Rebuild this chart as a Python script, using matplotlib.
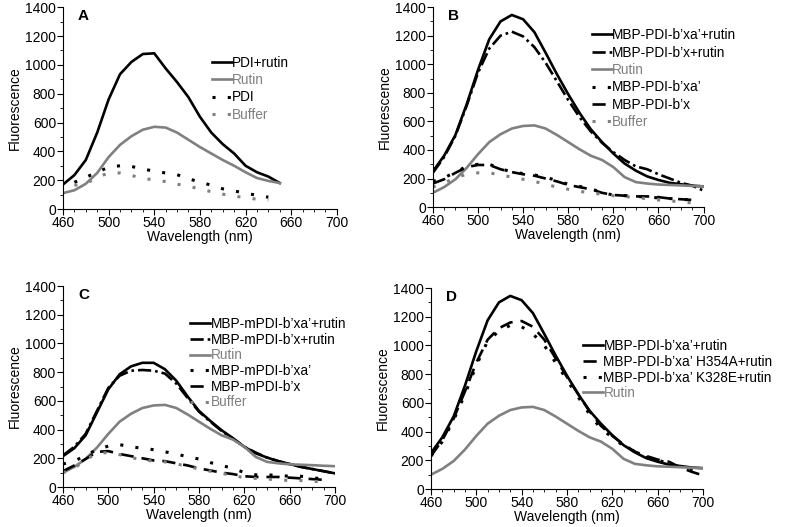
import matplotlib
matplotlib.use("Agg")
import matplotlib.pyplot as plt
from matplotlib.ticker import MultipleLocator

plt.rcParams["font.family"] = ["Liberation Sans", "DejaVu Sans"]
plt.rcParams["font.size"] = 10

GRAY = "#808080"

# ---- panel A (460-650 nm)
wlA = [460, 470, 480, 490, 500, 510, 520, 530, 540, 550,
       560, 570, 580, 590, 600, 610, 620, 630, 640, 650]
pdi_rutin_A = [170, 235, 340, 530, 760, 935, 1020, 1075, 1080, 975,
               880, 775, 640, 530, 450, 385, 300, 255, 225, 180]
rutin_A = [110, 130, 175, 250, 360, 445, 505, 550, 570, 565,
           530, 480, 430, 385, 340, 300, 255, 215, 195, 180]
wlA_dot = [470, 480, 490, 500, 510, 520, 530, 540, 550, 560,
           570, 580, 590, 600, 610, 620, 630, 640]
pdi_A = [185, 220, 255, 290, 300, 295, 278, 262, 250, 238,
         210, 187, 165, 140, 125, 110, 95, 82]
buffer_A = [165, 175, 220, 250, 250, 233, 212, 202, 190, 172,
            158, 139, 120, 103, 90, 78, 68, 63]

# ---- shared wavelength grid for B, C, D (460-700 nm)
wl = [460, 470, 480, 490, 500, 510, 520, 530, 540, 550, 560, 570, 580,
      590, 600, 610, 620, 630, 640, 650, 660, 670, 680, 690, 700]
rutin = [100, 140, 195, 275, 370, 455, 510, 550, 568, 572, 550, 505, 455,
         405, 360, 330, 280, 210, 175, 165, 158, 155, 152, 148, 145]

# panel B
bxa_rutin = [250, 360, 505, 720, 960, 1175, 1300, 1345, 1315, 1225, 1080, 930, 790,
             660, 545, 455, 375, 305, 255, 215, 190, 170, 160, 150, 145]
bx_rutin = [240, 350, 500, 710, 940, 1110, 1200, 1228, 1195, 1120, 1010, 880, 750,
            630, 530, 450, 385, 330, 285, 265, 230, 200, 170, 150, 115]
wl_dot = wl[:-1]
bxa_B = [180, 205, 245, 285, 300, 300, 270, 245, 235, 225, 210, 185, 160,
         145, 130, 100, 85, 80, 75, 70, 65, 60, 55, 50]
bx_B = [165, 195, 240, 280, 295, 295, 265, 245, 230, 220, 200, 180, 155,
        140, 125, 100, 85, 80, 75, 75, 70, 60, 55, 50]
buffer_B = [140, 170, 205, 230, 240, 240, 225, 210, 195, 180, 160, 140, 125,
            110, 100, 90, 80, 75, 65, 60, 50, 45, 35, 30]

# panel C
mbxa_rutin = [215, 270, 360, 520, 680, 785, 840, 865, 865, 820, 740, 630, 530,
              460, 395, 340, 280, 235, 205, 180, 160, 140, 125, 110, 95]
mbx_rutin = [220, 280, 370, 530, 690, 775, 810, 815, 810, 790, 720, 620, 525,
             455, 390, 335, 280, 240, 205, 180, 160, 140, 125, 110, 95]
mbxa_C = [160, 180, 220, 260, 285, 295, 280, 270, 260, 245, 230, 210, 195,
          170, 150, 130, 100, 85, 85, 80, 75, 75, 65, 55]
mbx_C = [110, 150, 195, 245, 250, 230, 215, 200, 185, 180, 165, 150, 130,
         115, 100, 90, 75, 70, 70, 70, 65, 60, 55, 50]
buffer_C = [100, 130, 190, 235, 240, 225, 205, 190, 180, 175, 160, 145, 125,
            110, 95, 80, 65, 60, 55, 50, 45, 45, 40, 35]

# panel D
h354a_rutin = [230, 340, 490, 680, 880, 1040, 1120, 1160, 1170, 1130, 1040, 910, 780,
               660, 540, 440, 370, 310, 260, 230, 205, 190, 150, 120, 95]
k328e_rutin = [230, 330, 480, 660, 860, 1030, 1100, 1140, 1130, 1080, 1000, 880, 760,
               640, 520, 420, 360, 300, 260, 220, 200, 180, 150, 130, 130]

xticks = [460, 500, 540, 580, 620, 660, 700]

SOLID = "-"
DOT = (0, (1, 4))
DASH = (0, (5, 3))
DASHDOT = (0, (5, 1.5, 1, 1.5))


def style_axis(ax, letter):
    ax.set_xlim(460, 700)
    ax.set_ylim(0, 1400)
    ax.set_xticks(xticks)
    ax.xaxis.set_minor_locator(MultipleLocator(10))
    ax.yaxis.set_major_locator(MultipleLocator(200))
    ax.yaxis.set_minor_locator(MultipleLocator(100))
    ax.spines["top"].set_visible(False)
    ax.spines["right"].set_visible(False)
    ax.tick_params(which="major", direction="out", length=4, labelsize=10, pad=1)
    ax.tick_params(which="minor", direction="out", length=2)
    ax.set_xlabel("Wavelength (nm)", fontsize=10, labelpad=0)
    ax.set_ylabel("Fluorescence", fontsize=10, labelpad=2)
    ax.text(0.055, 0.99, letter, transform=ax.transAxes, fontweight="bold",
            fontsize=11, va="top", ha="left")


def add_legend(ax, loc_xy, spacing):
    leg = ax.legend(loc="upper left", bbox_to_anchor=loc_xy, frameon=False,
                    handlelength=1.5, handletextpad=0.0, labelspacing=spacing,
                    fontsize=9.8, borderaxespad=0, borderpad=0)
    for line, text in zip(leg.get_lines(), leg.get_texts()):
        text.set_color(line.get_color())


fig = plt.figure(figsize=(7.87, 5.27), dpi=100)
axA = fig.add_axes([0.080, 0.6034, 0.348, 0.383])
axB = fig.add_axes([0.550, 0.607, 0.344, 0.3795])
axC = fig.add_axes([0.080, 0.0759, 0.3457, 0.3814])
axD = fig.add_axes([0.5476, 0.0721, 0.3456, 0.3814])

# A
axA.plot(wlA, pdi_rutin_A, color="black", lw=1.9, ls=SOLID, label="PDI+rutin")
axA.plot(wlA, rutin_A, color=GRAY, lw=1.9, ls=SOLID, label="Rutin")
axA.plot(wlA_dot, pdi_A, color="black", lw=2.2, ls=DOT, label="PDI")
axA.plot(wlA_dot, buffer_A, color=GRAY, lw=2.2, ls=DOT, label="Buffer")
style_axis(axA, "A")
add_legend(axA, (0.544, 0.76), 0.25)

# B
axB.plot(wl, bxa_rutin, color="black", lw=1.9, ls=SOLID, label="MBP-PDI-b\u2019xa\u2019+rutin")
axB.plot(wl, bx_rutin, color="black", lw=1.9, ls=DASHDOT, label="MBP-PDI-b\u2019x+rutin")
axB.plot(wl, rutin, color=GRAY, lw=1.9, ls=SOLID, label="Rutin")
axB.plot(wl_dot, bxa_B, color="black", lw=2.2, ls=DOT, label="MBP-PDI-b\u2019xa\u2019")
axB.plot(wl_dot, bx_B, color="black", lw=1.9, ls=DASH, label="MBP-PDI-b\u2019x")
axB.plot(wl_dot, buffer_B, color=GRAY, lw=2.2, ls=DOT, label="Buffer")
style_axis(axB, "B")
add_legend(axB, (0.587, 0.895), 0.25)

# C
axC.plot(wl, mbxa_rutin, color="black", lw=1.9, ls=SOLID, label="MBP-mPDI-b\u2019xa\u2019+rutin")
axC.plot(wl, mbx_rutin, color="black", lw=1.9, ls=DASHDOT, label="MBP-mPDI-b\u2019x+rutin")
axC.plot(wl, rutin, color=GRAY, lw=1.9, ls=SOLID, label="Rutin")
axC.plot(wl_dot, mbxa_C, color="black", lw=2.2, ls=DOT, label="MBP-mPDI-b\u2019xa\u2019")
axC.plot(wl_dot, mbx_C, color="black", lw=1.9, ls=DASH, label="MBP-mPDI-b\u2019x")
axC.plot(wl_dot, buffer_C, color=GRAY, lw=2.2, ls=DOT, label="Buffer")
style_axis(axC, "C")
add_legend(axC, (0.467, 0.845), 0.12)

# D
axD.plot(wl, bxa_rutin, color="black", lw=1.9, ls=SOLID, label="MBP-PDI-b\u2019xa\u2019+rutin")
axD.plot(wl, h354a_rutin, color="black", lw=1.9, ls=DASH, label="MBP-PDI-b\u2019xa\u2019 H354A+rutin")
axD.plot(wl, k328e_rutin, color="black", lw=2.2, ls=DOT, label="MBP-PDI-b\u2019xa\u2019 K328E+rutin")
axD.plot(wl, rutin, color=GRAY, lw=1.9, ls=SOLID, label="Rutin")
style_axis(axD, "D")
add_legend(axD, (0.559, 0.745), 0.12)

fig.savefig("out.png", dpi=100)
